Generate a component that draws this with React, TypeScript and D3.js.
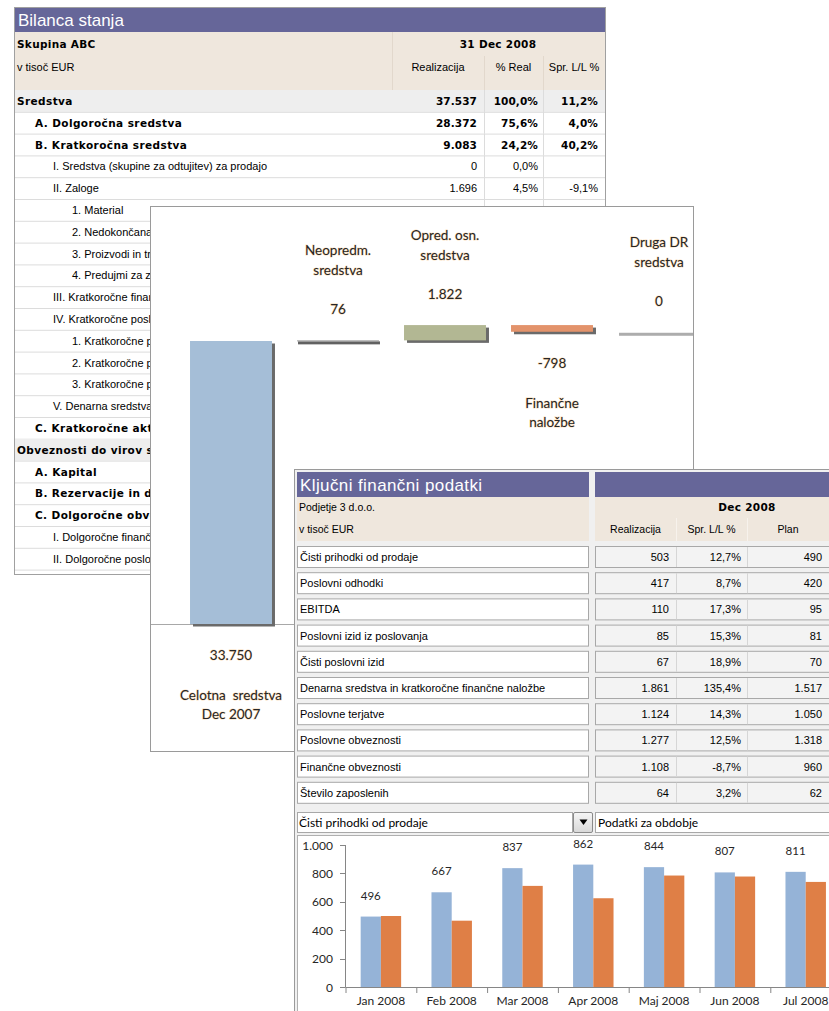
import React from "react";
import * as d3 from "d3";

const W = 829;
const H = 1011;

const PURPLE = "#666699";
const BEIGE = "#EFE7DD";
const fReg = "'Liberation Sans', Arial, sans-serif";
const fBold = "'DejaVu Sans', Verdana, sans-serif";
const fCal = "Lato, 'Open Sans', sans-serif";

const loc = d3.formatLocale({ decimal: ",", thousands: ".", grouping: [3], currency: ["", ""], minus: "-" });
const fmt = loc.format(",d");

// ---------- Bilanca stanja ----------
const bsLabels = [
  "Sredstva",
  "A. Dolgoročna sredstva",
  "B. Kratkoročna sredstva",
  "I. Sredstva (skupine za odtujitev) za prodajo",
  "II. Zaloge",
  "1. Material",
  "2. Nedokončana proizvodnja",
  "3. Proizvodi in trgovsko blago",
  "4. Predujmi za zaloge",
  "III. Kratkoročne finančne naložbe",
  "IV. Kratkoročne poslovne terjatve",
  "1. Kratkoročne poslovne terjatve",
  "2. Kratkoročne poslovne terjatve",
  "3. Kratkoročne poslovne terjatve",
  "V. Denarna sredstva",
  "C. Kratkoročne aktivne časovne razmejitve",
  "Obveznosti do virov sredstev",
  "A. Kapital",
  "B. Rezervacije in dolgoročne PČR",
  "C. Dolgoročne obveznosti",
  "I. Dolgoročne finančne obveznosti",
  "II. Dolgoročne poslovne obveznosti",
];
const bsLevels = [0, 1, 1, 2, 2, 3, 3, 3, 3, 2, 2, 3, 3, 3, 2, 1, 0, 1, 1, 1, 2, 2];
const bsBold = [1, 1, 1, 0, 0, 0, 0, 0, 0, 0, 0, 0, 0, 0, 0, 1, 1, 1, 1, 1, 0, 0];
const bsShaded = [1, 0, 0, 0, 0, 0, 0, 0, 0, 0, 0, 0, 0, 0, 0, 0, 1, 0, 0, 0, 0, 0];
const bsReal = ["37.537", "28.372", "9.083", "0", "1.696", "298"];
const bsPct = ["100,0%", "75,6%", "24,2%", "0,0%", "4,5%", "0,8%"];
const bsChg = ["11,2%", "4,0%", "40,2%", "", "-9,1%", "148,6%"];
const bsColHeads = ["Realizacija", "% Real", "Spr. L/L %"];

// ---------- Waterfall ----------
const wfNames = [
  ["Celotna  sredstva", "Dec 2007"],
  ["Neopredm.", "sredstva"],
  ["Opred. osn.", "sredstva"],
  ["Finančne", "naložbe"],
  ["Druga DR", "sredstva"],
];
const wfValues = [33750, 76, 1822, -798, 0];

// ---------- Ključni finančni podatki ----------
const kfLabels = [
  "Čisti prihodki od prodaje",
  "Poslovni odhodki",
  "EBITDA",
  "Poslovni izid iz poslovanja",
  "Čisti poslovni izid",
  "Denarna sredstva in kratkoročne finančne naložbe",
  "Poslovne terjatve",
  "Poslovne obveznosti",
  "Finančne obveznosti",
  "Število zaposlenih",
];
const kfReal = ["503", "417", "110", "85", "67", "1.861", "1.124", "1.277", "1.108", "64"];
const kfChg = ["12,7%", "8,7%", "17,3%", "15,3%", "18,9%", "135,4%", "14,3%", "12,5%", "-8,7%", "3,2%"];
const kfPlan = ["490", "420", "95", "81", "70", "1.517", "1.050", "1.318", "960", "62"];
const kfColHeads = ["Realizacija", "Spr. L/L %", "Plan"];

// ---------- Monthly chart ----------
const months = ["Jan 2008", "Feb 2008", "Mar 2008", "Apr 2008", "Maj 2008", "Jun 2008", "Jul 2008"];
const realMonthly = [496, 667, 837, 862, 844, 807, 811];
const otherMonthly = [500, 467, 712, 625, 785, 778, 740];
const yTicks = [0, 200, 400, 600, 800, 1000];

export default function App() {
  React.useEffect(() => {
    document.body.style.margin = "0";
  }, []);

  // Table 1 scales
  const bsRow = d3.scaleBand<number>().domain(d3.range(bsLabels.length)).range([90, 569.6]);
  const indent = d3.scaleOrdinal<number, number>().domain([0, 1, 2, 3]).range([17, 35, 53, 72]);
  const bsColsRight = [477, 538, 598];
  const bsColsCenter = [438, 513.5, 574];

  // Waterfall scales
  const wfX = d3
    .scaleBand<number>()
    .domain(d3.range(wfValues.length))
    .range([177.5, 177.5 + 535])
    .paddingInner(0.234)
    .paddingOuter(0.117);
  const wfY = d3.scaleLinear().domain([0, 33750]).range([624, 341]);
  let cum = 0;
  const wfSeg = wfValues.map((v, i) => {
    if (i === 0) {
      cum = v;
      return { s: 0, e: v, v, total: true };
    }
    const s = cum;
    cum += v;
    return { s, e: cum, v, total: false };
  });

  // Key table
  const kfRow = d3.scaleLinear().domain([0, 1]).range([546, 572.2]);
  const kfColsRight = [669, 741, 822];
  const kfColsCenter = [635.5, 711.5, 788];

  // Monthly chart scales
  const x0 = d3.scaleBand<string>().domain(months).range([345.5, 345.5 + 70.8 * months.length]);
  const x1 = d3
    .scaleBand<string>()
    .domain(["real", "other"])
    .range([0, x0.bandwidth()])
    .paddingInner(0)
    .paddingOuter(0.75);
  const y = d3.scaleLinear().domain([0, 1000]).range([987, 845]);

  const halo = { stroke: "#F3B870", strokeWidth: 1.0, strokeOpacity: 0.5, paintOrder: "stroke" as const };

  return (
    <svg
      width={W}
      height={H}
      style={{ display: "block", position: "absolute", left: 0, top: 0, background: "#fff" }}
    >
      <defs>
        <filter id="blur" x="-20%" y="-20%" width="140%" height="140%">
          <feGaussianBlur stdDeviation="0.7" />
        </filter>
        <clipPath id="wfclip">
          <rect x={151} y={207} width={542} height={544} />
        </clipPath>
        <linearGradient id="btn" x1="0" y1="0" x2="0" y2="1">
          <stop offset="0" stopColor="#f6f6f6" />
          <stop offset="1" stopColor="#d8d8d8" />
        </linearGradient>
      </defs>

      {/* ================= Panel 1: Bilanca stanja ================= */}
      <g>
        <rect x={14.5} y={7.5} width={591} height={567} fill="#fff" stroke="#a0a0a0" />
        <rect x={15} y={8} width={590} height={24} fill={PURPLE} />
        <text x={18} y={26} fontFamily={fReg} fontSize={17} fill="#fff">
          Bilanca stanja
        </text>
        <rect x={15} y={32} width={590} height={58} fill={BEIGE} />
        <line x1={392.5} x2={392.5} y1={32} y2={90} stroke="#e2d8cc" />
        <line x1={484.5} x2={484.5} y1={56} y2={90} stroke="#e2d8cc" />
        <line x1={543.5} x2={543.5} y1={56} y2={90} stroke="#e2d8cc" />
        <text x={17} y={48} fontFamily={fBold} fontWeight="bold" fontSize={10.5} letterSpacing={0.3} fill="#000">
          Skupina ABC
        </text>
        <text x={17} y={71} fontFamily={fReg} fontSize={11} fill="#000">
          v tisoč EUR
        </text>
        <text x={498} y={48} textAnchor="middle" fontFamily={fBold} fontWeight="bold" fontSize={10.5} letterSpacing={0.3} fill="#000">
          31 Dec 2008
        </text>
        {bsColHeads.map((h, j) => (
          <text key={h} x={bsColsCenter[j]} y={71} textAnchor="middle" fontFamily={fReg} fontSize={11} fill="#000">
            {h}
          </text>
        ))}
        {bsLabels.map((lab, i) => {
          const y0 = bsRow(i)!;
          const h = bsRow.bandwidth();
          const bold = bsBold[i] === 1;
          const font = bold
            ? { fontFamily: fBold, fontWeight: "bold" as const, fontSize: 10.5, letterSpacing: 0.4 }
            : { fontFamily: fReg, fontSize: 11 };
          const vfont = bold
            ? { fontFamily: fBold, fontWeight: "bold" as const, fontSize: 10.5, letterSpacing: 0.1 }
            : { fontFamily: fReg, fontSize: 11 };
          const vals = [bsReal[i], bsPct[i], bsChg[i]];
          return (
            <g key={i}>
              {bsShaded[i] === 1 && <rect x={15} y={y0} width={590} height={h} fill="#EEEEEE" />}
              <line x1={15} x2={605} y1={y0 + h + 0.5} y2={y0 + h + 0.5} stroke="#dcdcdc" />
              <line x1={484.5} x2={484.5} y1={y0} y2={y0 + h} stroke="#dcdcdc" />
              <line x1={543.5} x2={543.5} y1={y0} y2={y0 + h} stroke="#dcdcdc" />
              <text x={indent(bsLevels[i])} y={y0 + h / 2 + 4} fill="#000" {...font}>
                {lab}
              </text>
              {vals.map((v, j) =>
                v ? (
                  <text key={j} x={bsColsRight[j]} y={y0 + h / 2 + 4} textAnchor="end" fill="#000" {...vfont}>
                    {v}
                  </text>
                ) : null
              )}
            </g>
          );
        })}
      </g>

      {/* ================= Panel 2: Waterfall ================= */}
      <g>
        <rect x={150.5} y={206.5} width={543} height={545} fill="#fff" stroke="#9a9a9a" />
        <g clipPath="url(#wfclip)">
          <line x1={151} x2={693} y1={624.5} y2={624.5} stroke="#a8a8a8" />
          {wfSeg.map((d, i) => {
            const x = wfX(i)!;
            const w = wfX.bandwidth();
            const top = wfY(Math.max(d.s, d.e));
            const bot = wfY(Math.min(d.s, d.e));
            const h = Math.max(bot - top, 1);
            const fill = d.total ? "#A5BED7" : d.v > 0 ? "#B2B793" : d.v < 0 ? "#E3936B" : "none";
            const thin = bot - top < 3;
            const shadowCol = d.v === 0 ? "#a4a4a4" : thin ? "#505050" : "#6a6a6a";
            return (
              <g key={i}>
                <rect
                  x={x + (thin ? 1 : 3)}
                  y={top + (thin ? 1 : 2.5)}
                  width={w}
                  height={Math.max(h, 3)}
                  fill={shadowCol}
                  filter={thin ? undefined : "url(#blur)"}
                  opacity={thin ? 0.9 : 1}
                />
                {fill !== "none" && <rect x={x} y={top} width={w} height={h} fill={thin ? "#9a9a9a" : fill} />}
              </g>
            );
          })}
          {wfSeg.map((d, i) => {
            const cx = wfX(i)! + wfX.bandwidth() / 2;
            const below = d.total || d.v < 0;
            const top = wfY(Math.max(d.s, d.e));
            const bot = wfY(Math.min(d.s, d.e));
            const ys = below ? [bot + 31, bot + 71, bot + 90] : [top - 31, top - 90, top - 70];
            const common = {
              textAnchor: "middle" as const,
              dominantBaseline: "central" as const,
              fontFamily: fCal,
              fontSize: 13.5,
              fill: "#262626",
              ...halo,
            };
            return (
              <g key={i}>
                <text x={cx} y={ys[0]} {...common}>
                  {fmt(d.v)}
                </text>
                <text x={cx} y={ys[1]} {...common} style={{ whiteSpace: "pre" }}>
                  {wfNames[i][0]}
                </text>
                <text x={cx} y={ys[2]} {...common}>
                  {wfNames[i][1]}
                </text>
              </g>
            );
          })}
        </g>
      </g>

      {/* ================= Panel 3: Ključni finančni podatki ================= */}
      <g>
        <rect x={294.5} y={469.5} width={540} height={550} fill="#F0F0F0" stroke="#9a9a9a" />
        <rect x={297} y={472} width={292} height={25} fill={PURPLE} />
        <rect x={595} y={472} width={240} height={25} fill={PURPLE} />
        <text x={300} y={491} fontFamily={fReg} fontSize={17} letterSpacing={0.4} fill="#fff">
          Ključni finančni podatki
        </text>
        <rect x={297} y={497} width={292} height={44} fill={BEIGE} />
        <rect x={595} y={497} width={240} height={44} fill={BEIGE} />
        <line x1={676.5} x2={676.5} y1={518} y2={541} stroke="#f7f2ec" />
        <line x1={747.5} x2={747.5} y1={518} y2={541} stroke="#f7f2ec" />
        <text x={299} y={511} fontFamily={fReg} fontSize={10.5} fill="#000">
          Podjetje 3 d.o.o.
        </text>
        <text x={299} y={533} fontFamily={fReg} fontSize={10.5} fill="#000">
          v tisoč EUR
        </text>
        <text x={747} y={511} textAnchor="middle" fontFamily={fBold} fontWeight="bold" fontSize={10.5} letterSpacing={0.3} fill="#000">
          Dec 2008
        </text>
        {kfColHeads.map((h, j) => (
          <text key={h} x={kfColsCenter[j]} y={533} textAnchor="middle" fontFamily={fReg} fontSize={10.5} fill="#000">
            {h}
          </text>
        ))}
        {kfLabels.map((lab, i) => {
          const y0 = kfRow(i);
          const vals = [kfReal[i], kfChg[i], kfPlan[i]];
          return (
            <g key={i}>
              <rect x={297.5} y={y0 + 0.5} width={291} height={21} fill="#fff" stroke="#a8a8a8" />
              <rect x={595.5} y={y0 + 0.5} width={240} height={21} fill="#F3F3F3" stroke="#a8a8a8" />
              <line x1={676.5} x2={676.5} y1={y0 + 1} y2={y0 + 21} stroke="#d6d6d6" />
              <line x1={747.5} x2={747.5} y1={y0 + 1} y2={y0 + 21} stroke="#d6d6d6" />
              <text x={300} y={y0 + 15} fontFamily={fReg} fontSize={11} fill="#000">
                {lab}
              </text>
              {vals.map((v, j) => (
                <text key={j} x={kfColsRight[j]} y={y0 + 15} textAnchor="end" fontFamily={fReg} fontSize={11} fill="#000">
                  {v}
                </text>
              ))}
            </g>
          );
        })}

        {/* dropdown row */}
        <rect x={297.5} y={812.5} width={275} height={20} fill="#fff" stroke="#a8a8a8" />
        <rect x={573.5} y={812.5} width={19} height={20} fill="url(#btn)" stroke="#8a8a8a" rx={1.5} />
        <path d="M579.5,819.5 L587.5,819.5 L583.5,825 Z" fill="#000" />
        <rect x={595.5} y={812.5} width={240} height={20} fill="#fff" stroke="#a8a8a8" />
        <text x={299} y={827} fontFamily={fCal} fontSize={12} fill="#000">
          Čisti prihodki od prodaje
        </text>
        <text x={598} y={827} fontFamily={fCal} fontSize={12} fill="#000">
          Podatki za obdobje
        </text>

        {/* chart area */}
        <rect x={297.5} y={835.5} width={540} height={180} fill="#fff" stroke="#b0b0b0" />

        {/* y axis */}
        <line x1={345.5} x2={345.5} y1={y(1000)} y2={y(0)} stroke="#868686" />
        {yTicks.map((t) => (
          <g key={t}>
            <line x1={340} x2={345.5} y1={Math.round(y(t)) + 0.5} y2={Math.round(y(t)) + 0.5} stroke="#868686" />
            <text x={333} y={y(t) + 4.5} textAnchor="end" fontFamily={fCal} fontSize={12} fill="#262626">
              {fmt(t)}
            </text>
          </g>
        ))}
        {/* bars */}
        {months.map((m, i) => (
          <g key={m}>
            <rect
              x={x0(m)! + x1("real")!}
              y={y(realMonthly[i])}
              width={x1.bandwidth()}
              height={y(0) - y(realMonthly[i])}
              fill="#95B3D7"
            />
            <rect
              x={x0(m)! + x1("other")!}
              y={y(otherMonthly[i])}
              width={x1.bandwidth()}
              height={y(0) - y(otherMonthly[i])}
              fill="#DF7F46"
            />
            <text
              x={x0(m)! + x1("real")! + x1.bandwidth() / 2}
              y={y(realMonthly[i]) - 17}
              textAnchor="middle"
              fontFamily={fCal}
              fontSize={11.5}
              fill="#262626"
            >
              {fmt(realMonthly[i])}
            </text>
          </g>
        ))}
        {/* x axis */}
        <line x1={345.5} x2={835} y1={987.5} y2={987.5} stroke="#868686" />
        {months.map((m) => (
          <g key={m}>
            <line x1={x0(m)! + 0.5} x2={x0(m)! + 0.5} y1={987} y2={993} stroke="#868686" />
            <text
              x={x0(m)! + x0.bandwidth() / 2}
              y={1005}
              textAnchor="middle"
              fontFamily={fCal}
              fontSize={12}
              fill="#262626"
            >
              {m}
            </text>
          </g>
        ))}
      </g>
    </svg>
  );
}
